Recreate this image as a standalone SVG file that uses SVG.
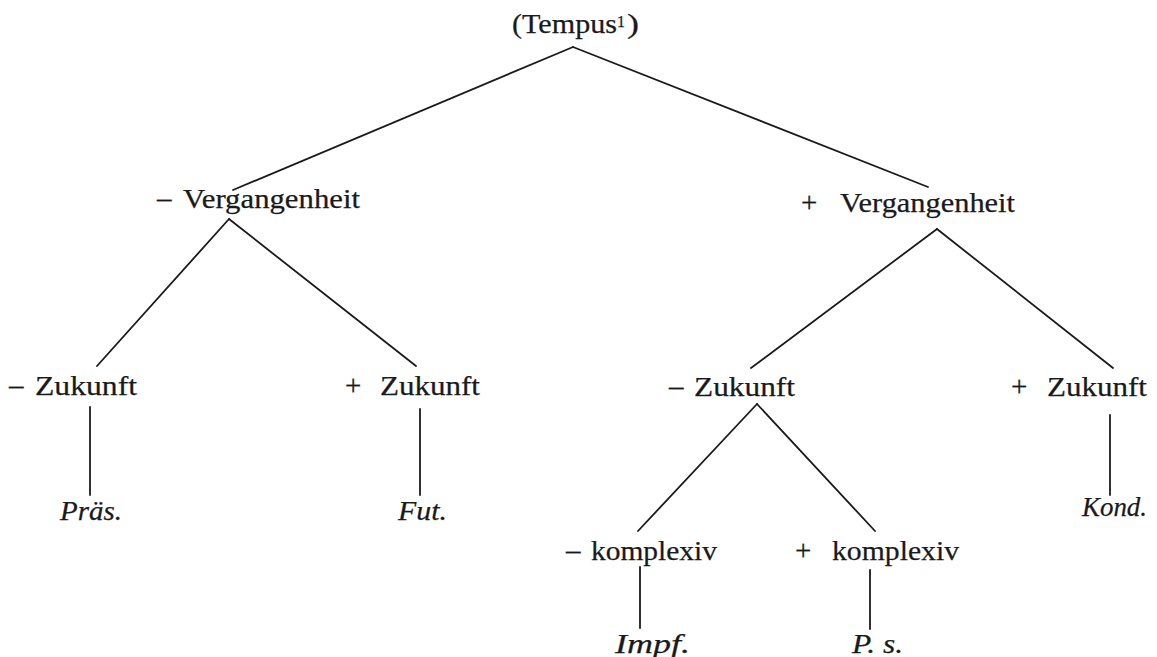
<svg xmlns="http://www.w3.org/2000/svg" width="1157" height="657" viewBox="0 0 1157 657">
<style>
text{font-family:"Liberation Serif","Times New Roman",serif;font-size:28px;fill:#1a1a1a;stroke:#1a1a1a;stroke-width:0.25}
.it{font-style:italic}
.sup{font-size:16px}
.op{font-size:29px}
#edges line{stroke:#1a1a1a;stroke-width:1.8;stroke-linecap:round}
</style>
<rect width="1157" height="657" fill="#ffffff"/>
<g id="edges">
<line x1="573" y1="47" x2="233" y2="190"/>
<line x1="573" y1="47" x2="928" y2="187"/>
<line x1="229" y1="219" x2="97" y2="366"/>
<line x1="229" y1="219" x2="416" y2="366"/>
<line x1="937" y1="229" x2="751" y2="368"/>
<line x1="937" y1="229" x2="1113" y2="368"/>
<line x1="90" y1="407" x2="90" y2="495"/>
<line x1="420" y1="409" x2="420" y2="495"/>
<line x1="1110" y1="415" x2="1110" y2="495"/>
<line x1="757" y1="404" x2="638" y2="531"/>
<line x1="757" y1="404" x2="875" y2="531"/>
<line x1="640" y1="567" x2="640" y2="628"/>
<line x1="870" y1="570" x2="870" y2="629"/>
</g>
<g id="tempus">
<text x="512" y="33" textLength="105" lengthAdjust="spacingAndGlyphs">(Tempus</text>
<text class="sup" x="617" y="27" textLength="8" lengthAdjust="spacingAndGlyphs">1</text>
<text x="627" y="33" textLength="12" lengthAdjust="spacingAndGlyphs">)</text>
</g>
<g id="minus-vergangenheit">
<text class="op" x="157" y="208">–</text>
<text x="183" y="208" textLength="177" lengthAdjust="spacingAndGlyphs">Vergangenheit</text>
</g>
<g id="plus-vergangenheit">
<text class="op" x="801" y="212">+</text>
<text x="840" y="212" textLength="175" lengthAdjust="spacingAndGlyphs">Vergangenheit</text>
</g>
<g id="minus-zukunft-1">
<text class="op" x="9" y="395">–</text>
<text x="35" y="395" textLength="102" lengthAdjust="spacingAndGlyphs">Zukunft</text>
</g>
<g id="plus-zukunft-1">
<text class="op" x="345" y="395">+</text>
<text x="380" y="395" textLength="100" lengthAdjust="spacingAndGlyphs">Zukunft</text>
</g>
<g id="minus-zukunft-2">
<text class="op" x="669" y="396">–</text>
<text x="694" y="396" textLength="101" lengthAdjust="spacingAndGlyphs">Zukunft</text>
</g>
<g id="plus-zukunft-2">
<text class="op" x="1011" y="396">+</text>
<text x="1047" y="396" textLength="100" lengthAdjust="spacingAndGlyphs">Zukunft</text>
</g>
<g id="praes">
<text class="it" x="60" y="520" textLength="62" lengthAdjust="spacingAndGlyphs">Präs.</text>
</g>
<g id="fut">
<text class="it" x="398" y="520" textLength="49" lengthAdjust="spacingAndGlyphs">Fut.</text>
</g>
<g id="kond">
<text class="it" x="1082" y="516" textLength="65" lengthAdjust="spacingAndGlyphs">Kond.</text>
</g>
<g id="minus-komplexiv">
<text class="op" x="566" y="560">–</text>
<text x="591" y="560" textLength="126" lengthAdjust="spacingAndGlyphs">komplexiv</text>
</g>
<g id="plus-komplexiv">
<text class="op" x="795" y="560">+</text>
<text x="832" y="560" textLength="127" lengthAdjust="spacingAndGlyphs">komplexiv</text>
</g>
<g id="impf">
<text class="it" x="615" y="653" textLength="75" lengthAdjust="spacingAndGlyphs">Impf.</text>
</g>
<g id="ps">
<text class="it" x="852" y="653" textLength="51" lengthAdjust="spacingAndGlyphs">P. s.</text>
</g>
</svg>
